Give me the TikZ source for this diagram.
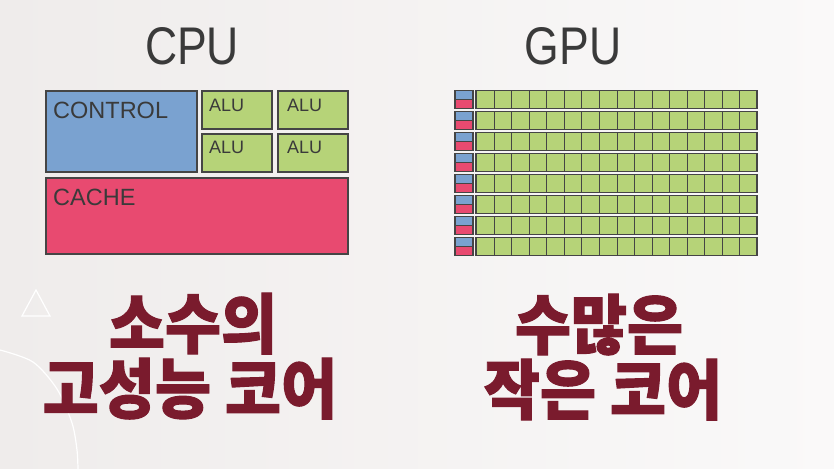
\documentclass[tikz,border=0pt]{standalone}
\usepackage{fontspec}
\setmainfont{Liberation Sans}
\newfontfamily\kr{Noto Sans CJK KR}[BoldFeatures={FakeBold=1.6}]
\begin{document}
\begin{tikzpicture}[x=1pt,y=-1pt]
\definecolor{bgL}{HTML}{EFECEB}
\definecolor{bgR}{HTML}{FAF9F9}
\definecolor{ctl}{HTML}{7AA2D0}
\definecolor{alu}{HTML}{B6D378}
\definecolor{cch}{HTML}{E84A70}
\definecolor{edge}{HTML}{454545}
\definecolor{ink}{HTML}{3A3A3A}
\definecolor{maroon}{HTML}{7A1B2D}
\tikzset{
  blk/.style={draw=edge,line width=1.3pt},
  cellline/.style={draw=edge,line width=1.2pt},
  lbl/.style={inner sep=0pt,anchor=base west,text=ink},
  title/.style={inner sep=0pt,anchor=base,text=ink,font=\fontsize{53}{60}\selectfont,xscale=0.84},
  kor/.style={inner sep=0pt,anchor=base,text=maroon,yscale=1.07,font=\kr\bfseries\fontsize{61}{66}\selectfont},
  deco/.style={draw=white,line width=1.2pt}
}
\useasboundingbox (0,0) rectangle (834,468);
\shade[left color=bgL,right color=bgR] (0,0) rectangle (834,468);
% decorations
\draw[deco] (22,316) -- (36,290) -- (50,316) -- cycle;
\draw[deco] plot[smooth] coordinates {(0,350) (33,362) (57,389) (72,423) (77,450) (78,470)};
% titles
\node[title] (tcpu) at (192,65) {CPU};
\node[title] (tgpu) at (573,65) {GPU};
% CPU
\draw[blk,fill=ctl] (46,91) rectangle (197,172);
\draw[blk,fill=alu] (202,91) rectangle (272,129);
\draw[blk,fill=alu] (278,91) rectangle (348,129);
\draw[blk,fill=alu] (202,134) rectangle (272,172);
\draw[blk,fill=alu] (278,134) rectangle (348,172);
\draw[blk,fill=cch] (46,178) rectangle (348,254);
\node[lbl,font=\fontsize{23.5}{26}\selectfont] (lctl) at (53,118) {CONTROL};
\node[lbl,font=\fontsize{23.5}{26}\selectfont] (lcch) at (53,205) {CACHE};
\node[lbl,font=\fontsize{18}{20}\selectfont] (la1) at (209,111) {ALU};
\node[lbl,font=\fontsize{18}{20}\selectfont] (la2) at (287,111) {ALU};
\node[lbl,font=\fontsize{18}{20}\selectfont] (la3) at (209,153) {ALU};
\node[lbl,font=\fontsize{18}{20}\selectfont] (la4) at (287,153) {ALU};
% GPU
\foreach \i in {0,...,7}{
  \pgfmathsetmacro{\yt}{90.5+21*\i}
  \pgfmathsetmacro{\ym}{\yt+9}
  \pgfmathsetmacro{\yb}{\yt+18}
  \fill[ctl] (455,\yt) rectangle (473,\ym);
  \fill[cch] (455,\ym) rectangle (473,\yb);
  \draw[edge,line width=1.1pt] (455,\yt) rectangle (473,\yb) (455,\ym) -- (473,\ym);
  \draw[blk,fill=alu] (476,\yt) rectangle (757,\yb);
  \foreach \j in {1,...,15}{
    \pgfmathsetmacro{\xx}{round(476+\j*281/16)+0.5}
    \draw[cellline] (\xx,\yt) -- (\xx,\yb);
  }
}
% Korean captions
\node[kor] (k1) at (193,348) {소수의};
\node[kor] (k2) at (190,413) {고성능 코어};
\node[kor] (k3) at (599,349) {수많은};
\node[kor] (k4) at (603,414) {작은 코어};
\end{tikzpicture}
\end{document}
